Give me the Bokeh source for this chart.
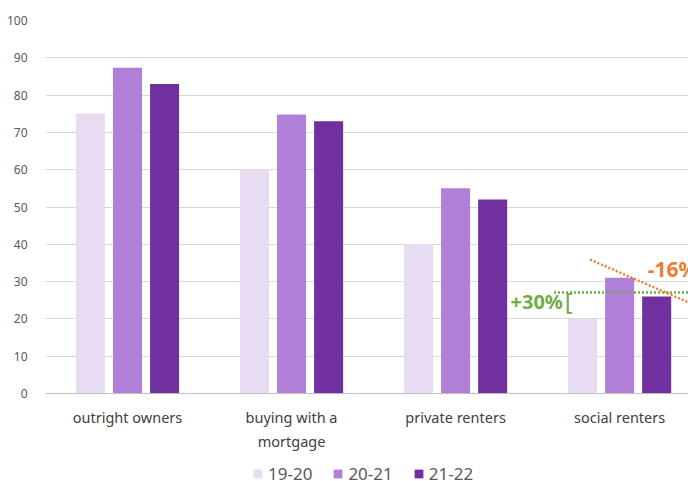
from bokeh.plotting import figure
from bokeh.layouts import column
from bokeh.models import ColumnDataSource, FixedTicker, Legend, LegendItem, Label, Range1d
from bokeh.embed import file_html
from bokeh.resources import INLINE

categories = ["outright owners", "buying with a\nmortgage", "private renters", "social renters"]
series = ["19-20", "20-21", "21-22"]
v_19_20 = [75, 60, 40, 20]
v_20_21 = [87.3, 74.8, 55, 31]
v_21_22 = [83, 73, 52, 26]
colors = ["#E8DCF2", "#B07FD8", "#7030A0"]
y_ticks = [0, 10, 20, 30, 40, 50, 60, 70, 80, 90, 100]

FONT = "Noto Sans"

p = figure(frame_width=643, frame_height=373, output_backend="svg", toolbar_location=None,
           x_range=Range1d(-0.5, 3.42), y_range=Range1d(0, 100),
           min_border_left=45, min_border_right=0, min_border_top=20, min_border_bottom=55)
p.outline_line_color = None
p.background_fill_color = "white"

offsets = [-0.226, 0, 0.226]
for vals, off, col in zip([v_19_20, v_20_21, v_21_22], offsets, colors):
    src = ColumnDataSource(dict(x=[i + off for i in range(len(categories))], top=vals))
    p.vbar(x="x", top="top", width=0.177, bottom=0, source=src, fill_color=col, line_color=None)

# annotations
p.line(x=[2.60, 3.5], y=[27.1, 27.1], line_color="#70AD47", line_width=2.5, line_dash="2 2")
p.line(x=[2.82, 3.5], y=[35.9, 22.9], line_color="#ED7D31", line_width=2.5, line_dash="2 2")
p.add_layout(Label(x=2.335, y=24.7, text="+30%", text_color="#70AD47", text_font=FONT,
                   text_font_size="20px", text_font_style="bold", text_baseline="middle", text_align="left"))
p.add_layout(Label(x=2.665, y=24.9, text="[", text_color="#70AD47", text_font=FONT,
                   text_font_size="24px", text_baseline="middle", text_align="left"))
p.add_layout(Label(x=3.171, y=33.5, text="-16%", text_color="#ED7D31", text_font=FONT,
                   text_font_size="21px", text_font_style="bold", text_baseline="middle", text_align="left"))

# axes
p.xaxis.ticker = FixedTicker(ticks=list(range(len(categories))))
p.xaxis.major_label_overrides = {i: c for i, c in enumerate(categories)}
p.xaxis.major_tick_line_color = None
p.xaxis.minor_tick_line_color = None
p.xaxis.axis_line_color = "#BFBFBF"
p.xaxis.major_label_text_font = FONT
p.xaxis.major_label_text_font_size = "14.5px"
p.xaxis.major_label_text_color = "#404040"
p.xaxis.major_label_standoff = 13
p.xaxis.major_tick_out = 0
p.xaxis.major_tick_in = 0

p.yaxis.ticker = FixedTicker(ticks=y_ticks)
p.yaxis.axis_line_color = None
p.yaxis.major_tick_line_color = None
p.yaxis.minor_tick_line_color = None
p.yaxis.major_label_text_font = FONT
p.yaxis.major_label_text_font_size = "12px"
p.yaxis.major_label_text_color = "#595959"
p.yaxis.major_label_standoff = 12

p.xgrid.grid_line_color = None
p.ygrid.grid_line_color = "#D9D9D9"
p.ygrid.ticker = FixedTicker(ticks=y_ticks)

# legend strip below the chart (legend swatches use hidden off-range proxies)
total_h = 481
main_h = 20 + 373 + 55
lg = figure(width=688, height=total_h - main_h, output_backend="svg", toolbar_location=None,
            x_range=Range1d(0, 1), y_range=Range1d(0, 1),
            x_axis_location=None, y_axis_location=None,
            min_border_left=0, min_border_right=0, min_border_top=0, min_border_bottom=0)
lg.grid.visible = False
lg.outline_line_color = None
lrs = []
for col in colors:
    lrs.append(lg.vbar(x=[0.5], top=[-5], bottom=[-6], width=0.1, fill_color=col, line_color=None))
legend = Legend(items=[LegendItem(label=s, renderers=[r]) for s, r in zip(series, lrs)],
                orientation="horizontal", location=(207, 1),
                glyph_width=11, glyph_height=11, label_text_font=FONT,
                label_text_font_size="17px", label_text_color="#595959",
                border_line_color=None, background_fill_alpha=0, spacing=20, label_standoff=5,
                margin=0, padding=0, label_height=20)
lg.add_layout(legend, "center")

layout = column(p, lg, spacing=0)
open("out.html", "w").write(file_html(layout, INLINE))
